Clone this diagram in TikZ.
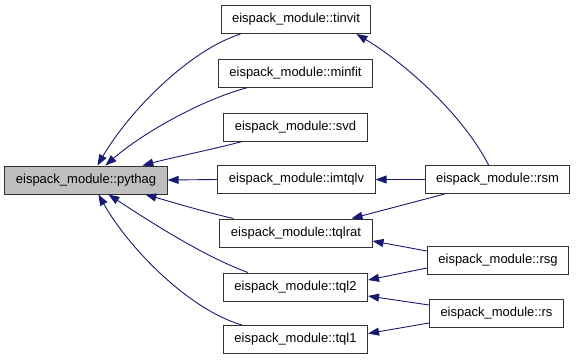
\documentclass[tikz,border=0pt]{standalone}
\usepackage{fontspec}
\setmainfont{Liberation Sans}
\usetikzlibrary{arrows.meta}

\definecolor{edgeblue}{RGB}{25,25,112}
\definecolor{hilite}{RGB}{191,191,191}

\begin{document}
\begin{tikzpicture}[x=1pt,y=-1pt]
        \tikzset{vertex/.style = {shape=rectangle,draw=black!80,line width=1pt,fill=white,minimum height=28pt,inner xsep=11pt,font=\fontsize{13}{15}\selectfont,text height=1.6ex,text depth=.3ex}}
        \tikzset{edge/.style = {-{Triangle[length=11pt,width=8pt]},draw=edgeblue,line width=0.9pt}}
        \useasboundingbox (0,0) rectangle (576,360);
        % callee on the left
        \node[vertex,fill=hilite] (pythag) at (86,180) {eispack\_module::pythag};
        % middle column
        \node[vertex] (tinvit) at (296,19.5) {eispack\_module::tinvit};
        \node[vertex] (minfit) at (295.5,73) {eispack\_module::minfit};
        \node[vertex] (svd) at (295.5,127) {eispack\_module::svd};
        \node[vertex] (imtqlv) at (296.5,179.5) {eispack\_module::imtqlv};
        \node[vertex] (tqlrat) at (296,233) {eispack\_module::tqlrat};
        \node[vertex] (tqltwo) at (295.5,287) {eispack\_module::tql2};
        \node[vertex] (tqlone) at (295.5,339.5) {eispack\_module::tql1};
        % drivers on the right
        \node[vertex] (rsm) at (497.5,179.5) {eispack\_module::rsm};
        \node[vertex] (rsg) at (498,260) {eispack\_module::rsg};
        \node[vertex] (rs) at (496.5,313) {eispack\_module::rs};

        \draw[edge] ([xshift=20pt]tinvit.south west) .. controls (190,50) and (130,110) .. ([xshift=93pt]pythag.north west);
        \draw[edge] ([xshift=30pt]minfit.south west) .. controls (200,100) and (140,135) .. ([xshift=101pt]pythag.north west);
        \draw[edge] ([xshift=19pt]svd.south west) .. controls (210,150) and (170,158) .. ([xshift=138pt]pythag.north west);
        \draw[edge] (imtqlv.west) -- (pythag.east);
        \draw[edge] ([xshift=14pt]tqlrat.north west) .. controls (205,212) and (175,203) .. ([xshift=141pt]pythag.south west);
        \draw[edge] ([xshift=25pt]tqltwo.north west) .. controls (200,255) and (140,215) .. ([xshift=104pt]pythag.south west);
        \draw[edge] ([xshift=19pt]tqlone.north west) .. controls (190,310) and (130,250) .. ([xshift=94pt]pythag.south west);

        \draw[edge] ([xshift=64pt]rsm.north west) .. controls (460,110) and (400,60) .. ([xshift=-15pt]tinvit.south east);
        \draw[edge] (rsm.west) -- (imtqlv.east);
        \draw[edge] ([xshift=20pt]rsm.south west) -- ([xshift=-21pt]tqlrat.north east);
        \draw[edge] ([yshift=9pt]rsg.west) -- ([yshift=-8pt]tqlrat.east);
        \draw[edge] ([yshift=-8pt]rsg.west) -- ([yshift=7pt]tqltwo.east);
        \draw[edge] ([yshift=8pt]rs.west) -- ([yshift=-9pt]tqltwo.east);
        \draw[edge] ([yshift=-10pt]rs.west) -- ([yshift=6pt]tqlone.east);
\end{tikzpicture}
\end{document}
